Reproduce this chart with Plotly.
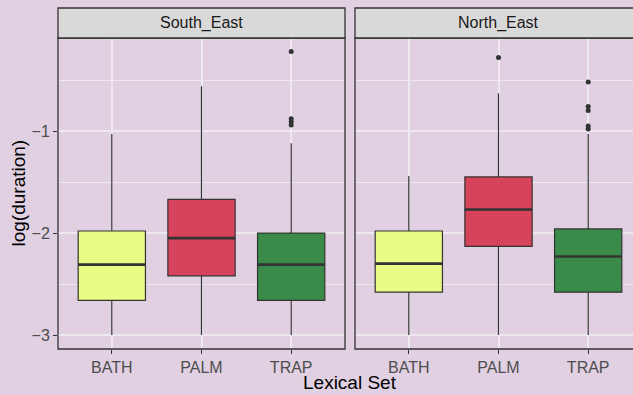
import plotly.graph_objects as go

# ---- data -------------------------------------------------------------
regions = ["South_East", "North_East"]
lexical_sets = ["BATH", "PALM", "TRAP"]
box_colors = ["#EAFC86", "#D6435A", "#3A8A4A"]

# five-number summaries of log(duration), ordered as lexical_sets
se_lower = [-3.0, -3.0, -3.0]
se_q1 = [-2.66, -2.42, -2.66]
se_median = [-2.31, -2.05, -2.31]
se_q3 = [-1.98, -1.67, -2.00]
se_upper = [-1.03, -0.56, -1.12]
se_outliers = {"TRAP": [-0.22, -0.88, -0.91, -0.94]}

ne_lower = [-3.0, -3.0, -3.0]
ne_q1 = [-2.58, -2.13, -2.58]
ne_median = [-2.30, -1.77, -2.23]
ne_q3 = [-1.98, -1.45, -1.96]
ne_upper = [-1.44, -0.63, -1.03]
ne_outliers = {"PALM": [-0.28], "TRAP": [-0.52, -0.76, -0.80, -0.95, -0.98]}

y_ticks = [-3, -2, -1]
y_minor = [-2.5, -1.5, -0.5]

# ---- styling ----------------------------------------------------------
BG = "#E0D0E2"
GRID = "#EEE8EF"
INK = "#333333"
FONT = "Liberation Sans, Arial, sans-serif"
BOX_W = 0.75
TICK_SIZE = 16
TITLE_SIZE = 19

W, H = 633, 395
panels_px = [(58, 345), (355, 642)]          # horizontal extent of each panel
panel_top, panel_bot, strip_top = 38, 349, 8


def px_x(p):
    return p / W


def px_y(p):
    return 1 - p / H


fig = go.Figure()

facets = [
    (se_lower, se_q1, se_median, se_q3, se_upper, se_outliers),
    (ne_lower, ne_q1, ne_median, ne_q3, ne_upper, ne_outliers),
]

for k, (lo, q1, med, q3, up, outl) in enumerate(facets):
    xa = "x" if k == 0 else "x2"
    ya = "y" if k == 0 else "y2"
    for i, name in enumerate(lexical_sets):
        pos = i + 1
        fig.add_trace(go.Box(
            x=[pos], lowerfence=[lo[i]], q1=[q1[i]], median=[med[i]],
            q3=[q3[i]], upperfence=[up[i]],
            width=BOX_W, whiskerwidth=0,
            fillcolor=box_colors[i],
            line=dict(color=INK, width=1.2),
            boxpoints=False, hoverinfo="skip",
            xaxis=xa, yaxis=ya, showlegend=False,
        ))
        # thicker median bar
        fig.add_trace(go.Scatter(
            x=[pos - BOX_W / 2, pos + BOX_W / 2], y=[med[i], med[i]],
            mode="lines", line=dict(color=INK, width=2.6),
            xaxis=xa, yaxis=ya, showlegend=False, hoverinfo="skip",
        ))
        if name in outl:
            pts = outl[name]
            fig.add_trace(go.Scatter(
                x=[pos] * len(pts), y=pts, mode="markers",
                marker=dict(color=INK, size=5),
                xaxis=xa, yaxis=ya, showlegend=False, hoverinfo="skip",
            ))

# ---- axes -------------------------------------------------------------
unit_px = (panels_px[0][1] - panels_px[0][0]) / 3.2
x_common = dict(
    tickmode="array", tickvals=[1, 2, 3], ticktext=lexical_sets,
    showgrid=True, gridcolor=GRID, gridwidth=1.6, zeroline=False,
    ticks="outside", ticklen=4, tickwidth=1.2, tickcolor=INK,
    tickfont=dict(family=FONT, size=TICK_SIZE, color="#4D4D4D"),
    showline=False,
)
y_common = dict(
    range=[-3.137, -0.088], tickmode="array", tickvals=y_ticks,
    ticktext=["\u22123", "\u22122", "\u22121"],
    showgrid=True, gridcolor=GRID, gridwidth=1.6, zeroline=False,
    minor=dict(tickvals=y_minor, showgrid=True, gridcolor=GRID,
               gridwidth=0.8, ticks=""),
    showline=False,
)

fig.update_layout(
    width=W, height=H,
    margin=dict(l=0, r=0, t=0, b=0),
    paper_bgcolor=BG, plot_bgcolor=BG,
    boxmode="overlay",
    xaxis=dict(domain=[px_x(58), px_x(345)], range=[0.4, 3.6],
               anchor="y", **x_common),
    xaxis2=dict(domain=[px_x(355), 1.0],
                range=[0.4, 0.4 + (W - 355) / unit_px],
                anchor="y2", **x_common),
    yaxis=dict(domain=[px_y(panel_bot), px_y(panel_top)], anchor="x",
               ticks="outside", ticklen=4, tickwidth=1.2, tickcolor=INK,
               tickfont=dict(family=FONT, size=TICK_SIZE, color="#4D4D4D"),
               **y_common),
    yaxis2=dict(domain=[px_y(panel_bot), px_y(panel_top)], anchor="x2",
                showticklabels=False, ticks="", matches="y", **y_common),
)

# ---- panel borders and facet strips -----------------------------------
for (x0, x1), label in zip(panels_px, regions):
    fig.add_shape(type="rect", xref="paper", yref="paper",
                  x0=px_x(x0), x1=px_x(x1), y0=px_y(panel_bot), y1=px_y(panel_top),
                  line=dict(color=INK, width=1.3), fillcolor="rgba(0,0,0,0)",
                  layer="above")
    fig.add_shape(type="rect", xref="paper", yref="paper",
                  x0=px_x(x0), x1=px_x(x1), y0=px_y(panel_top), y1=px_y(strip_top),
                  line=dict(color=INK, width=1.3), fillcolor="#D9D9D9",
                  layer="above")
    fig.add_annotation(x=px_x((x0 + x1) / 2), y=px_y((panel_top + strip_top) / 2),
                       xref="paper", yref="paper", text=label, showarrow=False,
                       font=dict(family=FONT, size=TICK_SIZE, color="#1A1A1A"),
                       xanchor="center", yanchor="middle")

# ---- axis titles --------------------------------------------------------
fig.add_annotation(x=px_x((panels_px[0][0] + panels_px[1][1]) / 2), y=0.0,
                   xref="paper", yref="paper", text="Lexical Set",
                   showarrow=False, xanchor="center", yanchor="bottom",
                   font=dict(family=FONT, size=TITLE_SIZE, color="black"))
fig.add_annotation(x=px_x(18), y=px_y((panel_top + panel_bot) / 2),
                   xref="paper", yref="paper", text="log(duration)",
                   showarrow=False, textangle=-90, xanchor="center", yanchor="middle",
                   font=dict(family=FONT, size=TITLE_SIZE, color="black"))

fig.write_html("out.html")
